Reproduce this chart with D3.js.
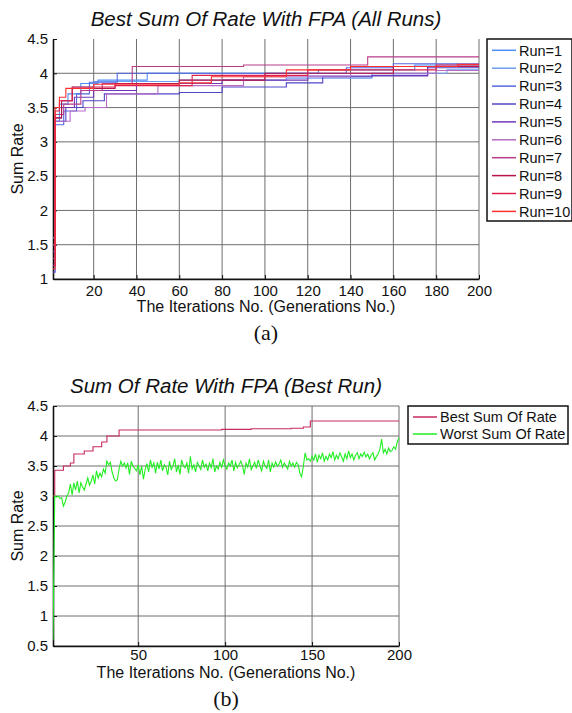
<!DOCTYPE html>
<html>
<head>
<meta charset="utf-8">
<script src="https://cdn.jsdelivr.net/npm/d3@7"></script>
<style>
  body { margin: 0; background: #fff; }
  text { font-family: "Liberation Sans", Arial, sans-serif; fill: #111; }
</style>
</head>
<body>
<svg width="572" height="713"></svg>
<script>
// ---- data ----
const runNames = ["Run=1", "Run=2", "Run=3", "Run=4", "Run=5", "Run=6", "Run=7", "Run=8", "Run=9", "Run=10"];
const runColors = ["#4d8ef8", "#6f9ff0", "#5468e0", "#5046c8", "#7238b8", "#b86cc8", "#b83c88", "#b81448", "#e0204c", "#ff3030"];

// each run: [generation, best sum rate] at the points where the value changes
const runSteps = [
  [[1,1.3],[2,3.3],[4,3.55],[8,3.7],[14,3.85],[22,3.9],[45,4.0],[90,4.0],[125,4.05],[170,4.12],[200,4.12]],
  [[1,1.5],[2,3.4],[5,3.6],[10,3.8],[20,3.88],[60,3.9],[110,3.93],[150,4.0],[185,4.05],[200,4.05]],
  [[1,1.2],[2,3.25],[6,3.45],[12,3.7],[18,3.87],[31,4.0],[100,4.0],[138,4.08],[160,4.14],[200,4.14]],
  [[1,1.1],[2,3.3],[7,3.5],[15,3.6],[25,3.7],[60,3.72],[80,3.8],[110,3.86],[127,3.95],[150,3.97],[176,4.08],[200,4.08]],
  [[1,1.4],[2,3.35],[5,3.5],[11,3.65],[20,3.75],[40,3.85],[80,3.9],[120,3.96],[176,4.1],[200,4.1]],
  [[1,1.6],[2,3.3],[9,3.45],[16,3.5],[26,3.7],[50,3.82],[90,3.95],[140,4.0],[180,4.04],[200,4.04]],
  [[1,1.3],[2,3.4],[6,3.55],[14,3.75],[24,3.85],[38,4.1],[90,4.12],[148,4.24],[200,4.24]],
  [[1,1.2],[2,3.35],[5,3.6],[10,3.78],[30,3.85],[60,3.9],[100,4.0],[160,4.1],[200,4.1]],
  [[1,1.5],[2,3.45],[4,3.6],[10,3.8],[30,3.82],[66,3.97],[120,4.05],[180,4.12],[200,4.12]],
  [[1,1.15],[2,3.5],[4,3.65],[7,3.78],[20,3.84],[60,3.86],[75,3.95],[110,4.05],[140,4.1],[190,4.13],[200,4.13]]
];

// best run: best value steps and worst value per generation
const bestSteps = [[1,3.0],[2,3.43],[7,3.5],[11,3.55],[13,3.7],[19,3.75],[24,3.82],[29,3.9],[32,4.0],[39,4.1],
  [98,4.11],[115,4.12],[138,4.13],[145,4.15],[149,4.25],[200,4.25]];
const worstValues = [
  0.6, 3.0, 2.98, 3.0, 2.96, 2.97, 2.83, 2.9, 3.0, 3.05,
  3.2, 3.02, 3.22, 3.1, 3.25, 3.05, 3.22, 3.15, 3.1, 3.2,
  3.3, 3.18, 3.25, 3.35, 3.2, 3.42, 3.3, 3.38, 3.32, 3.45,
  3.38, 3.58, 3.52, 3.56, 3.4, 3.3, 3.25, 3.27, 3.45, 3.58,
  3.5, 3.55, 3.47, 3.55, 3.36, 3.58, 3.5, 3.46, 3.42, 3.52,
  3.35, 3.5, 3.28, 3.44, 3.54, 3.4, 3.6, 3.48, 3.55, 3.38,
  3.56, 3.45, 3.6, 3.42, 3.52, 3.48, 3.35, 3.58, 3.44, 3.5,
  3.62, 3.4, 3.52, 3.36, 3.6, 3.5, 3.47, 3.55, 3.38, 3.66,
  3.45, 3.52, 3.4, 3.56, 3.5, 3.44, 3.6, 3.48, 3.53, 3.42,
  3.55, 3.47, 3.62, 3.4, 3.5, 3.45, 3.56, 3.48, 3.6, 3.5,
  3.45, 3.55, 3.5, 3.6, 3.42, 3.56, 3.47, 3.52, 3.58, 3.5,
  3.36, 3.55, 3.48, 3.62, 3.44, 3.5, 3.56, 3.46, 3.6, 3.5,
  3.42, 3.58, 3.5, 3.46, 3.6, 3.4, 3.55, 3.48, 3.57, 3.5,
  3.53, 3.6, 3.48, 3.55, 3.5, 3.45, 3.58, 3.5, 3.55, 3.48,
  3.56, 3.52, 3.38, 3.32, 3.5, 3.72, 3.6, 3.62, 3.58, 3.66,
  3.6, 3.7, 3.56, 3.68, 3.62, 3.72, 3.58, 3.66, 3.6, 3.7,
  3.64, 3.74, 3.6, 3.68, 3.62, 3.72, 3.65, 3.58, 3.7, 3.62,
  3.75, 3.64, 3.7, 3.6, 3.68, 3.72, 3.62, 3.7, 3.66, 3.73,
  3.65, 3.7, 3.62, 3.68, 3.72, 3.6, 3.66, 3.7, 3.78, 3.95,
  3.72, 3.78, 3.7, 3.8, 3.74, 3.76, 3.82, 3.78, 3.9, 3.97
];
const bestNames = ["Best Sum Of Rate", "Worst Sum Of Rate"];
const bestColors = ["#c82a5e", "#22ee22"];

const topXTicks = [20, 40, 60, 80, 100, 120, 140, 160, 180, 200];
const topYTicks = [1, 1.5, 2, 2.5, 3, 3.5, 4, 4.5];
const botXTicks = [50, 100, 150, 200];
const botYTicks = [0.5, 1, 1.5, 2, 2.5, 3, 3.5, 4, 4.5];

const svg = d3.select("svg");
svg.append("rect").attr("width", 572).attr("height", 713).attr("fill", "#fff");

function drawPanel(p) {
  const x = d3.scaleLinear().domain([1, 200]).range([p.left, p.right]);
  const y = d3.scaleLinear().domain(p.yDomain).range([p.bottom, p.top]);
  const g = svg.append("g");

  // grid
  g.selectAll(".vgrid").data(p.xTicks).join("line")
    .attr("x1", d => x(d)).attr("x2", d => x(d))
    .attr("y1", p.top).attr("y2", p.bottom)
    .attr("stroke", "#6e6e6e").attr("stroke-width", 1);
  g.selectAll(".hgrid").data(p.yTicks.filter(t => p.topGrid || t < p.yDomain[1])).join("line")
    .attr("x1", p.left).attr("x2", p.right)
    .attr("y1", d => y(d)).attr("y2", d => y(d))
    .attr("stroke", "#6e6e6e").attr("stroke-width", 1);

  // axes (ticks point inward)
  const xAxis = g.append("g").attr("transform", `translate(0,${p.bottom})`)
    .call(d3.axisBottom(x).tickValues(p.xTicks).tickSizeInner(-4).tickSizeOuter(0).tickPadding(p.xPad)
      .tickFormat(d3.format("d")));
  const yAxis = g.append("g").attr("transform", `translate(${p.left},0)`)
    .call(d3.axisLeft(y).tickValues(p.yTicks).tickSizeInner(-4).tickSizeOuter(0).tickPadding(5)
      .tickFormat(d => String(d)));
  [xAxis, yAxis].forEach(a => {
    a.select(".domain").attr("stroke", "#111").attr("stroke-width", 1.6);
    a.selectAll(".tick line").attr("stroke", "#111");
    a.selectAll(".tick text").style("font-size", "15px").attr("fill", "#111")
      .style("font-family", "'Liberation Sans', Arial, sans-serif");
  });

  // series
  const clip = "clip" + p.id;
  g.append("clipPath").attr("id", clip).append("rect")
    .attr("x", p.left).attr("y", p.top - 2).attr("width", p.right - p.left + 1).attr("height", p.bottom - p.top + 2);
  const lines = g.append("g").attr("clip-path", `url(#${clip})`);
  p.series.forEach(s => {
    const line = d3.line().x(d => x(d[0])).y(d => y(d[1])).curve(s.step ? d3.curveStepAfter : d3.curveLinear);
    lines.append("path").datum(s.points).attr("d", line)
      .attr("fill", "none").attr("stroke", s.color).attr("stroke-width", 1.1);
  });

  // labels
  svg.append("text").attr("x", (p.left + p.right) / 2).attr("y", p.top - 13)
    .attr("text-anchor", "middle").style("font-size", "20.5px").style("font-style", "italic")
    .text(p.title);
  svg.append("text").attr("x", (p.left + p.right) / 2).attr("y", p.bottom + p.xLabelGap)
    .attr("text-anchor", "middle").style("font-size", "16px")
    .text("The Iterations No. (Generations No.)");
  svg.append("text").attr("transform", `translate(23,${(p.top + p.bottom) / 2}) rotate(-90)`)
    .attr("text-anchor", "middle").style("font-size", "16px")
    .text("Sum Rate");
  svg.append("text").attr("x", (p.left + p.right) / 2).attr("y", p.caption[1])
    .attr("text-anchor", "middle").style("font-size", "22px")
    .style("font-family", "'Liberation Serif', 'Times New Roman', serif")
    .text(p.caption[0]);

  // legend
  const L = p.legend;
  const lg = svg.append("g");
  lg.append("rect").attr("x", L.x).attr("y", L.y).attr("width", L.w).attr("height", L.h)
    .attr("fill", "#fff").attr("stroke", "#111").attr("stroke-width", 1.5);
  const items = lg.selectAll(".item").data(p.series).join("g")
    .attr("transform", (d, i) => `translate(${L.x},${L.first + i * L.step})`);
  items.append("line").attr("x1", 5).attr("x2", 29).attr("y1", 0).attr("y2", 0)
    .attr("stroke", d => d.color).attr("stroke-width", 1.5);
  items.append("text").attr("x", 32).attr("y", 0).attr("dy", "0.36em")
    .style("font-size", L.font).text(d => d.name);
}

drawPanel({
  id: "a", left: 53, right: 479, top: 39, bottom: 279, topGrid: false, xLabelGap: 33, xPad: 6,
  yDomain: [1, 4.5], xTicks: topXTicks, yTicks: topYTicks,
  title: "Best Sum Of Rate With FPA (All Runs)", caption: ["(a)", 340],
  series: runNames.map((n, i) => ({ name: n, color: runColors[i], points: runSteps[i], step: true })),
  legend: { x: 487, y: 39, w: 85, h: 182, first: 50.3, step: 17.9, font: "14.5px" }
});

drawPanel({
  id: "b", left: 53, right: 399, top: 406, bottom: 646, topGrid: true, xLabelGap: 32, xPad: 3,
  yDomain: [0.5, 4.5], xTicks: botXTicks, yTicks: botYTicks,
  title: "Sum Of Rate With FPA (Best Run)", caption: ["(b)", 706],
  series: [
    { name: bestNames[0], color: bestColors[0], points: bestSteps, step: true },
    { name: bestNames[1], color: bestColors[1], points: worstValues.map((v, i) => [i + 1, v]), step: false }
  ],
  legend: { x: 408, y: 406, w: 160, h: 38, first: 417, step: 17, font: "14.5px" }
});
</script>
</body>
</html>
